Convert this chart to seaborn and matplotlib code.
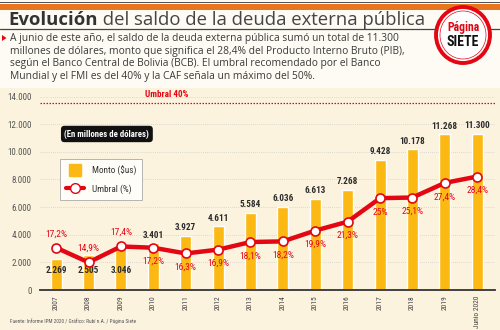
import matplotlib
matplotlib.use("Agg")
import matplotlib.pyplot as plt
import seaborn as sns
import numpy as np
import pandas as pd
from matplotlib.patches import Rectangle, Ellipse, Polygon
from matplotlib.lines import Line2D
from matplotlib import font_manager

# ---------------- data ----------------
years = ["2007", "2008", "2009", "2010", "2011", "2012", "2013", "2014",
         "2015", "2016", "2017", "2018", "2019", "Junio 2020"]
monto = [2269, 2505, 3046, 3401, 3927, 4611, 5584, 6036, 6613, 7268,
         9428, 10178, 11268, 11300]
umbral_pct = [17.2, 14.9, 17.4, 17.2, 16.3, 16.9, 18.1, 18.2, 19.9, 21.3,
              25.0, 25.1, 27.4, 28.4]
umbral_max = 40
yticks = [0, 2000, 4000, 6000, 8000, 10000, 12000, 14000]

title_bold = "Evolución"
title_rest = " del saldo de la deuda externa pública"
paragraph = ["A junio de este año, el saldo de la deuda externa pública sumó un total de 11.300",
             "millones de dólares, monto que significa el 28,4% del Producto Interno Bruto (PIB),",
             "según el Banco Central de Bolivia (BCB). El umbral recomendado por el Banco",
             "Mundial y el FMI es del 40% y la CAF señala un máximo del 50%."]
source = "Fuente: Informe IPM 2020 / Gráfico: Rubí n.A. / Página Siete"

df = pd.DataFrame({"year": years, "monto": monto, "pct": umbral_pct})

# ---------------- style ----------------
sns.set_theme(style="white")
available = {f.name for f in font_manager.fontManager.ttflist}
NARROW = [f for f in ["Liberation Sans Narrow", "Roboto Condensed", "Roboto"]
          if f in available] + ["DejaVu Sans"]
plt.rcParams["font.family"] = ["Open Sans", "DejaVu Sans"]

BG = "#fcf3df"
ORANGE = "#e8761e"
GOLD = "#fdb913"
RED = "#e30613"
DARK = "#2b2b2b"

W, H = 500, 330
fig = plt.figure(figsize=(5.0, 3.3), dpi=100, facecolor=BG)

def fx(px):
    return px / W

def fy(py):
    return 1 - py / H

# header background
fig.patches.append(Rectangle((0, fy(88)), 1, 88 / H, transform=fig.transFigure,
                             facecolor="#fefbf4", edgecolor="none", zorder=0))
fig.patches.append(Rectangle((0, fy(3)), 1, 1.2 / H, transform=fig.transFigure,
                             facecolor="#555555", edgecolor="none", zorder=1))
fig.patches.append(Rectangle((0, fy(10)), 1, 6.5 / H, transform=fig.transFigure,
                             facecolor=ORANGE, edgecolor="none", zorder=1))
fig.lines.append(Line2D([0, 1], [fy(29), fy(29)], transform=fig.transFigure,
                        color="#444444", lw=0.9, zorder=1))

# title
t1 = fig.text(fx(8), fy(20), title_bold, fontsize=13.3, fontweight="bold",
              color="#333333", va="center", ha="left")
fig.canvas.draw()
bb = t1.get_window_extent(renderer=fig.canvas.get_renderer())
fig.text(bb.x1 / W, fy(20), title_rest, fontsize=13.3, color="#444444",
         va="center", ha="left")

# paragraph
fig.patches.append(Polygon([[fx(2), fy(35)], [fx(2), fy(41)], [fx(6.5), fy(38)]],
                           closed=True, transform=fig.transFigure,
                           facecolor=RED, edgecolor="none", zorder=2))
for i, line in enumerate(paragraph):
    fig.text(fx(10), fy(39 + i * 12.4), line, fontsize=7.4, color="#3a3a3a",
             va="center", ha="left")

# logo
cx, cy = 463, 35
fig.patches.append(Ellipse((fx(cx), fy(cy)), 54 / W, 56 / H, transform=fig.transFigure,
                           facecolor="white", edgecolor=RED, lw=2.8, zorder=3))
fig.patches.append(Ellipse((fx(cx), fy(cy)), 46 / W, 48 / H, transform=fig.transFigure,
                           facecolor="none", edgecolor=RED, lw=0.5, zorder=3))
fig.text(fx(cx), fy(27), "Página", fontsize=8.5, fontweight="bold", color=RED,
         ha="center", va="center", zorder=4, family=NARROW)
fig.text(fx(cx), fy(42), "SIETE", fontsize=10, fontweight="bold", color="#111111",
         ha="center", va="center", zorder=4, family=NARROW)

# ---------------- chart ----------------
ax = fig.add_axes([fx(40), 1 - 290 / H, 455 / W, 199 / H])
ax.set_facecolor("none")
sns.barplot(data=df, x="year", y="monto", ax=ax, color=GOLD, width=0.34,
            saturation=1, zorder=2)
ax.set_ylim(0, 14400)
ax.set_xlim(-0.5, 13.55)
ax.set_yticks(yticks)
ax.set_yticklabels([f"{v:,}".replace(",", ".") for v in yticks],
                   fontsize=6.5, color="#555555", family=NARROW)
ax.tick_params(axis="y", length=0, pad=6)
ax.tick_params(axis="x", length=0, pad=4)
ax.set_xticks(range(len(years)))
ax.set_xticklabels(years, rotation=90, fontsize=5.4, color="#444444", family=NARROW)
ax.set_xlabel("")
ax.set_ylabel("")
for s in ["top", "right", "left"]:
    ax.spines[s].set_visible(False)
ax.spines["bottom"].set_color("#333333")
ax.spines["bottom"].set_linewidth(1.3)
for v in yticks[1:]:
    ax.axhline(v, color="#cfcfcf", lw=0.6, ls=(0, (1, 1.5)), zorder=0)

# bar value labels
for i, v in enumerate(monto):
    lbl = f"{v:,}".replace(",", ".")
    if i < 3:
        ax.text(i, 1400, lbl, ha="center", va="center", fontsize=6.6,
                fontweight="bold", color=DARK, family=NARROW, zorder=5)
    else:
        ax.text(i, v + 250, lbl, ha="center", va="bottom", fontsize=6.6,
                fontweight="bold", color=DARK, family=NARROW, zorder=5)

# percentage line on twin axis
ax2 = ax.twinx()
slope = 460
lo = 14.9 - 2000 / slope
sns.pointplot(data=df, x="year", y="pct", ax=ax2, color=RED, linewidth=3.2,
              markers="o", markersize=6.5, markerfacecolor="white",
              markeredgecolor=RED, markeredgewidth=1.2, zorder=4)
ax2.set_xlim(-0.5, 13.55)
ax2.set_ylim(lo, lo + 14400 / slope)
ax2.axis("off")
ax2.axhline(umbral_max, color=RED, lw=0.9, ls=(0, (1.2, 1.2)), zorder=1)
ax2.annotate(f"Umbral {umbral_max}%", xy=(3.4, umbral_max), xytext=(0, 2.5),
             textcoords="offset points", ha="center", va="bottom", fontsize=6.6,
             fontweight="bold", color=RED, family=NARROW)
for i, p in enumerate(umbral_pct):
    lbl = (f"{p:.1f}".rstrip("0").rstrip(".")).replace(".", ",") + "%"
    off = 10 if i < 3 else -10
    ax2.annotate(lbl, xy=(i, p), xytext=(0, off), textcoords="offset points",
                 ha="center", va="center", fontsize=6.8, color=RED,
                 family=NARROW, zorder=6)

# unit tag
ax.text(0.147, 0.784, "(En millones de dólares)", transform=ax.transAxes,
        ha="center", va="center", fontsize=6.3, fontweight="bold", color="white",
        family=NARROW,
        bbox=dict(boxstyle="round,pad=0.4,rounding_size=0.4", facecolor="#111111",
                  edgecolor="none"), zorder=7)

# legend
handles = [Line2D([0], [0], marker="s", color="none", markerfacecolor=GOLD,
                  markeredgecolor=GOLD, markersize=8),
           Line2D([0], [0], marker="o", color=RED, lw=3, markerfacecolor="white",
                  markeredgecolor=RED, markersize=7)]
leg = ax.legend(handles, ["Monto ($us)", "Umbral (%)"], loc="upper left",
                bbox_to_anchor=(0.033, 0.68), fontsize=6.6, frameon=True,
                fancybox=False, edgecolor="#aaaaaa", facecolor="#fffdf8",
                framealpha=1, handlelength=2.0, borderpad=0.7, labelspacing=0.9)
leg.get_frame().set_linewidth(0.6)
for t in leg.get_texts():
    t.set_family(NARROW)
    t.set_color("#333333")
leg.set_zorder(8)

# source
fig.text(fx(10), fy(321), source, fontsize=3.8, color="#555555", ha="left",
         va="center", family=NARROW)

fig.savefig("out.png", dpi=100, facecolor=BG)
